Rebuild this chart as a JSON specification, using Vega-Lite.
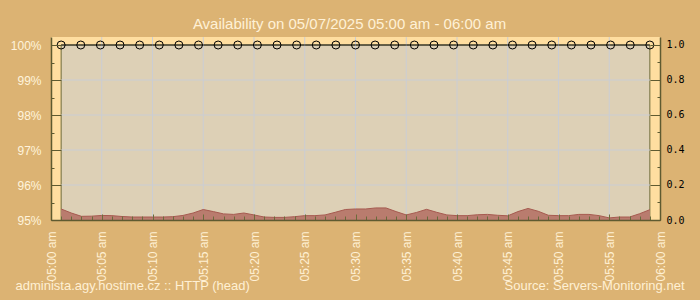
{
  "$schema": "https://vega.github.io/schema/vega-lite/v6.json",
  "width": 609,
  "height": 183,
  "autosize": "none",
  "padding": {"left": 51, "top": 37, "right": 40, "bottom": 80},
  "background": "#DCB373",
  "config": {"view": {"stroke": null, "fill": "#FFDEA0"}, "font": "Liberation Sans"},
  "title": {"text": "Availability on 05/07/2025 05:00 am - 06:00 am", "color": "#FFF1D6", "fontSize": 15, "fontWeight": "normal", "font": "Liberation Sans", "offset": 5, "dx": -6},
  "layer": [
    {
      "layer": [
        {
          "data": {"values": [{"t": "2025-05-07T05:01:00", "t2": "2025-05-07T05:59:00", "pct": 95, "pct2": 100}]},
          "mark": {"type": "rect", "fill": "#DDD0B6", "stroke": "#6F6C3C", "strokeWidth": 1},
          "encoding": {
            "x": {
              "field": "t", "type": "temporal",
              "scale": {"domain": [{"year": 2025, "month": 5, "date": 7, "hours": 5, "minutes": 0}, {"year": 2025, "month": 5, "date": 7, "hours": 6, "minutes": 0}], "nice": false},
              "axis": {
                "title": "administa.agy.hostime.cz :: HTTP (head)",
                "titleX": -36, "titleY": 69, "titleAlign": "left", "titleBaseline": "alphabetic",
                "titleFontSize": 13, "titleFontWeight": "normal", "titleColor": "#FFF0D4", "titleFont": "Liberation Sans",
                "tickCount": 60,
                "labelExpr": "minutes(datum.value) % 5 == 0 ? timeFormat(datum.value, '%I:%M') + ' am' : ''",
                "labelAngle": 270, "labelAlign": "right", "labelBaseline": "middle",
                "labelFontSize": 12, "labelColor": "#FFF0D4", "labelPadding": 17,
                "labelOverlap": false, "labelFlush": false, "grid": false,
                "domainColor": "#5E5A30", "domainWidth": 1.5, "tickColor": "#6A6C3A",
                "tickSize": {"condition": {"test": "minutes(datum.value) % 5 == 0", "value": -6}, "value": -4},
                "zindex": 1
              }
            },
            "x2": {"field": "t2"},
            "y": {
              "field": "pct", "type": "quantitative",
              "scale": {"domain": [95, 100.2286], "nice": false, "zero": false},
              "axis": {
                "title": null,
                "values": [95, 95.5, 96, 96.5, 97, 97.5, 98, 98.5, 99, 99.5, 100],
                "labelExpr": "datum.value % 1 == 0 ? datum.value + '%' : ''",
                "labelColor": "#FFF3DC", "labelFontSize": 12, "labelPadding": 20,
                "labelOverlap": false, "labelFlush": false,
                "grid": false, "domainColor": "#5E5A30", "domainWidth": 1.5, "tickColor": "#5E5A30",
                "tickSize": {"condition": {"test": "datum.value % 1 == 0", "value": -10}, "value": -3},
                "zindex": 1
              }
            },
            "y2": {"field": "pct2"}
          }
        },
        {
          "data": {"values": [
            {"t": "2025-05-07T05:01:00", "t2": "2025-05-07T05:59:00", "pct": 96},
            {"t": "2025-05-07T05:01:00", "t2": "2025-05-07T05:59:00", "pct": 97},
            {"t": "2025-05-07T05:01:00", "t2": "2025-05-07T05:59:00", "pct": 98},
            {"t": "2025-05-07T05:01:00", "t2": "2025-05-07T05:59:00", "pct": 99}
          ]},
          "mark": {"type": "rule", "color": "#CACDD4", "strokeWidth": 1},
          "encoding": {
            "x": {"field": "t", "type": "temporal"},
            "x2": {"field": "t2"},
            "y": {
              "field": "pct", "type": "quantitative",
              "axis": {
                "title": null,
                "values": [95, 95.5, 96, 96.5, 97, 97.5, 98, 98.5, 99, 99.5, 100],
                "labelExpr": "datum.value % 1 == 0 ? datum.value + '%' : ''",
                "labelColor": "#FFF3DC", "labelFontSize": 12, "labelPadding": 20,
                "labelOverlap": false, "labelFlush": false,
                "grid": false, "domainColor": "#5E5A30", "domainWidth": 1.5, "tickColor": "#5E5A30",
                "tickSize": {"condition": {"test": "datum.value % 1 == 0", "value": -10}, "value": -3},
                "zindex": 1
              }
            }
          }
        },
        {
          "data": {"values": [
            {"t": "2025-05-07T05:05:00"}, {"t": "2025-05-07T05:10:00"}, {"t": "2025-05-07T05:15:00"},
            {"t": "2025-05-07T05:20:00"}, {"t": "2025-05-07T05:25:00"}, {"t": "2025-05-07T05:30:00"},
            {"t": "2025-05-07T05:35:00"}, {"t": "2025-05-07T05:40:00"}, {"t": "2025-05-07T05:45:00"},
            {"t": "2025-05-07T05:50:00"}, {"t": "2025-05-07T05:55:00"}
          ]},
          "mark": {"type": "rule", "color": "#CACDD4", "strokeWidth": 1},
          "encoding": {"x": {"field": "t", "type": "temporal"}}
        },
        {
          "data": {"values": [
            {"t": "2025-05-07T05:01:00", "pct": 100}, {"t": "2025-05-07T05:02:56", "pct": 100},
            {"t": "2025-05-07T05:04:52", "pct": 100}, {"t": "2025-05-07T05:06:48", "pct": 100},
            {"t": "2025-05-07T05:08:44", "pct": 100}, {"t": "2025-05-07T05:10:40", "pct": 100},
            {"t": "2025-05-07T05:12:36", "pct": 100}, {"t": "2025-05-07T05:14:32", "pct": 100},
            {"t": "2025-05-07T05:16:28", "pct": 100}, {"t": "2025-05-07T05:18:24", "pct": 100},
            {"t": "2025-05-07T05:20:20", "pct": 100}, {"t": "2025-05-07T05:22:16", "pct": 100},
            {"t": "2025-05-07T05:24:12", "pct": 100}, {"t": "2025-05-07T05:26:08", "pct": 100},
            {"t": "2025-05-07T05:28:04", "pct": 100}, {"t": "2025-05-07T05:30:00", "pct": 100},
            {"t": "2025-05-07T05:31:56", "pct": 100}, {"t": "2025-05-07T05:33:52", "pct": 100},
            {"t": "2025-05-07T05:35:48", "pct": 100}, {"t": "2025-05-07T05:37:44", "pct": 100},
            {"t": "2025-05-07T05:39:40", "pct": 100}, {"t": "2025-05-07T05:41:36", "pct": 100},
            {"t": "2025-05-07T05:43:32", "pct": 100}, {"t": "2025-05-07T05:45:28", "pct": 100},
            {"t": "2025-05-07T05:47:24", "pct": 100}, {"t": "2025-05-07T05:49:20", "pct": 100},
            {"t": "2025-05-07T05:51:16", "pct": 100}, {"t": "2025-05-07T05:53:12", "pct": 100},
            {"t": "2025-05-07T05:55:08", "pct": 100}, {"t": "2025-05-07T05:57:04", "pct": 100},
            {"t": "2025-05-07T05:59:00", "pct": 100}
          ]},
          "encoding": {
            "x": {"field": "t", "type": "temporal"},
            "y": {
              "field": "pct", "type": "quantitative",
              "axis": {
                "title": null,
                "values": [95, 95.5, 96, 96.5, 97, 97.5, 98, 98.5, 99, 99.5, 100],
                "labelExpr": "datum.value % 1 == 0 ? datum.value + '%' : ''",
                "labelColor": "#FFF3DC", "labelFontSize": 12, "labelPadding": 20,
                "labelOverlap": false, "labelFlush": false,
                "grid": false, "domainColor": "#5E5A30", "domainWidth": 1.5, "tickColor": "#5E5A30",
                "tickSize": {"condition": {"test": "datum.value % 1 == 0", "value": -10}, "value": -3},
                "zindex": 1
              }
            }
          },
          "layer": [
            {"mark": {"type": "line", "color": "#1A1A1A", "strokeWidth": 1}, "encoding": {}},
            {"mark": {"type": "point", "shape": "circle", "filled": false, "stroke": "#000000", "strokeWidth": 1, "size": 64, "opacity": 1}, "encoding": {}}
          ]
        }
      ]
    },
    {
      "data": {"values": [
        {"t": "2025-05-07T05:01:00", "rt": 0.063}, {"t": "2025-05-07T05:02:00", "rt": 0.040},
        {"t": "2025-05-07T05:03:00", "rt": 0.021}, {"t": "2025-05-07T05:04:00", "rt": 0.022},
        {"t": "2025-05-07T05:05:00", "rt": 0.026}, {"t": "2025-05-07T05:06:00", "rt": 0.025},
        {"t": "2025-05-07T05:07:00", "rt": 0.020}, {"t": "2025-05-07T05:08:00", "rt": 0.017},
        {"t": "2025-05-07T05:09:00", "rt": 0.017}, {"t": "2025-05-07T05:10:00", "rt": 0.017},
        {"t": "2025-05-07T05:11:00", "rt": 0.017}, {"t": "2025-05-07T05:12:00", "rt": 0.019},
        {"t": "2025-05-07T05:13:00", "rt": 0.026}, {"t": "2025-05-07T05:14:00", "rt": 0.040},
        {"t": "2025-05-07T05:15:00", "rt": 0.060}, {"t": "2025-05-07T05:16:00", "rt": 0.048},
        {"t": "2025-05-07T05:17:00", "rt": 0.035}, {"t": "2025-05-07T05:18:00", "rt": 0.032},
        {"t": "2025-05-07T05:19:00", "rt": 0.040}, {"t": "2025-05-07T05:20:00", "rt": 0.029},
        {"t": "2025-05-07T05:21:00", "rt": 0.017}, {"t": "2025-05-07T05:22:00", "rt": 0.015},
        {"t": "2025-05-07T05:23:00", "rt": 0.015}, {"t": "2025-05-07T05:24:00", "rt": 0.019},
        {"t": "2025-05-07T05:25:00", "rt": 0.025}, {"t": "2025-05-07T05:26:00", "rt": 0.025},
        {"t": "2025-05-07T05:27:00", "rt": 0.029}, {"t": "2025-05-07T05:28:00", "rt": 0.044},
        {"t": "2025-05-07T05:29:00", "rt": 0.060}, {"t": "2025-05-07T05:30:00", "rt": 0.063},
        {"t": "2025-05-07T05:31:00", "rt": 0.063}, {"t": "2025-05-07T05:32:00", "rt": 0.069},
        {"t": "2025-05-07T05:33:00", "rt": 0.069}, {"t": "2025-05-07T05:34:00", "rt": 0.048},
        {"t": "2025-05-07T05:35:00", "rt": 0.029}, {"t": "2025-05-07T05:36:00", "rt": 0.043},
        {"t": "2025-05-07T05:37:00", "rt": 0.061}, {"t": "2025-05-07T05:38:00", "rt": 0.044},
        {"t": "2025-05-07T05:39:00", "rt": 0.029}, {"t": "2025-05-07T05:40:00", "rt": 0.025},
        {"t": "2025-05-07T05:41:00", "rt": 0.025}, {"t": "2025-05-07T05:42:00", "rt": 0.030},
        {"t": "2025-05-07T05:43:00", "rt": 0.032}, {"t": "2025-05-07T05:44:00", "rt": 0.027},
        {"t": "2025-05-07T05:45:00", "rt": 0.024}, {"t": "2025-05-07T05:46:00", "rt": 0.048},
        {"t": "2025-05-07T05:47:00", "rt": 0.066}, {"t": "2025-05-07T05:48:00", "rt": 0.050},
        {"t": "2025-05-07T05:49:00", "rt": 0.027}, {"t": "2025-05-07T05:50:00", "rt": 0.025},
        {"t": "2025-05-07T05:51:00", "rt": 0.025}, {"t": "2025-05-07T05:52:00", "rt": 0.032},
        {"t": "2025-05-07T05:53:00", "rt": 0.032}, {"t": "2025-05-07T05:54:00", "rt": 0.025},
        {"t": "2025-05-07T05:55:00", "rt": 0.012}, {"t": "2025-05-07T05:56:00", "rt": 0.017},
        {"t": "2025-05-07T05:57:00", "rt": 0.017}, {"t": "2025-05-07T05:58:00", "rt": 0.036},
        {"t": "2025-05-07T05:59:00", "rt": 0.059}
      ]},
      "encoding": {
        "x": {"field": "t", "type": "temporal"},
        "y": {
          "field": "rt", "type": "quantitative",
          "scale": {"domain": [0, 1.0457], "nice": false},
          "axis": {
            "orient": "right",
            "title": "Source: Servers-Monitoring.net",
            "titleAngle": 0, "titleX": 24, "titleY": 252, "titleAlign": "right", "titleBaseline": "alphabetic",
            "titleFontSize": 13, "titleFontWeight": "normal", "titleColor": "#FFF0D4", "titleFont": "Liberation Sans",
            "values": [0, 0.1, 0.2, 0.3, 0.4, 0.5, 0.6, 0.7, 0.8, 0.9, 1.0],
            "labelExpr": "round(datum.value * 10) % 2 == 0 ? format(datum.value, '.1f') : ''",
            "labelFont": "DejaVu Sans Mono", "labelFontSize": 10, "labelColor": "#000000", "labelPadding": 16,
            "labelOverlap": false, "labelFlush": false,
            "grid": false, "domainColor": "#5E5A30", "domainWidth": 1.5, "tickColor": "#5E5A30",
            "tickSize": {"condition": {"test": "round(datum.value * 10) % 2 == 0", "value": -10}, "value": -3},
            "zindex": 1
          }
        }
      },
      "layer": [
        {"mark": {"type": "area", "color": "#B97C6E", "opacity": 1}, "encoding": {}},
        {"mark": {"type": "line", "color": "#A65A50", "strokeWidth": 1}, "encoding": {}}
      ]
    }
  ],
  "resolve": {"scale": {"y": "independent"}, "axis": {"y": "independent"}}
}
